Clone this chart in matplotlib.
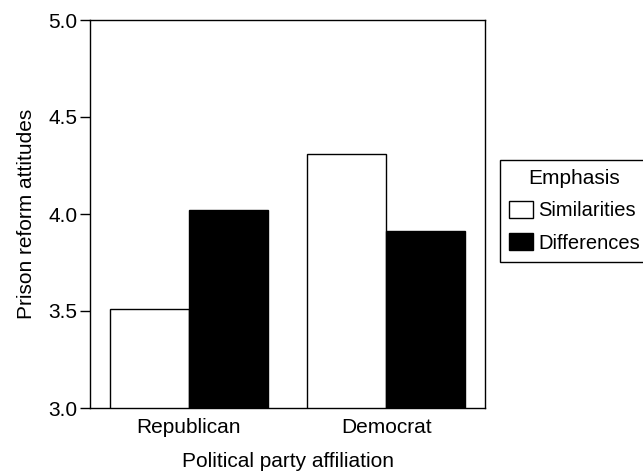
import matplotlib
matplotlib.use("Agg")
import matplotlib.pyplot as plt
import numpy as np

categories = ["Republican", "Democrat"]
similarities = [3.51, 4.31]
differences = [4.02, 3.91]
series_labels = ["Similarities", "Differences"]
y_ticks = [3.0, 3.5, 4.0, 4.5, 5.0]

plt.rcParams["font.family"] = ["Liberation Sans", "DejaVu Sans"]
plt.rcParams["font.size"] = 15

fig = plt.figure(figsize=(6.43, 4.72), dpi=100)
ax = fig.add_axes([90 / 643, 1 - 408 / 472, 395 / 643, 388 / 472])

x = np.arange(len(categories))
width = 0.4
ax.bar(x - width / 2, similarities, width, bottom=0, color="white",
       edgecolor="black", linewidth=1.0, label=series_labels[0])
ax.bar(x + width / 2, differences, width, bottom=0, color="black",
       edgecolor="black", linewidth=1.0, label=series_labels[1])

ax.set_xlim(-0.5, 1.5)
ax.set_ylim(3.0, 5.0)
ax.set_yticks(y_ticks)
ax.set_yticklabels([f"{v:.1f}" for v in y_ticks])
ax.set_xticks(x)
ax.set_xticklabels(categories)
ax.tick_params(axis="x", length=0, pad=7)
ax.tick_params(axis="y", length=7, width=1, direction="out", pad=2)
for spine in ax.spines.values():
    spine.set_linewidth(1.0)

ax.set_ylabel("Prison reform attitudes", labelpad=9)
ax.set_xlabel("Political party affiliation", labelpad=11)

# legend sits past the right edge in the original, so it gets clipped a bit
leg = fig.legend(loc="upper left", bbox_to_anchor=(500 / 643, 1 - 160 / 472),
                 title="Emphasis", fancybox=False, frameon=True,
                 edgecolor="black", framealpha=1, handlelength=1.2,
                 handleheight=0.95, handletextpad=0.25, borderaxespad=0,
                 borderpad=0.45, labelspacing=0.63, fontsize=14.5,
                 title_fontsize=15)
leg.get_frame().set_linewidth(1.0)

fig.savefig("out.png", dpi=100)
